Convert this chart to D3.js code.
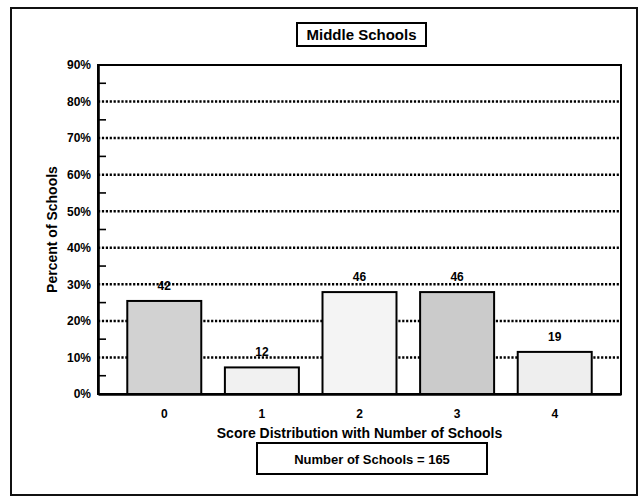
<!DOCTYPE html>
<html>
<head>
<meta charset="utf-8">
<script src="https://cdn.jsdelivr.net/npm/d3@7"></script>
<style>
  html, body { margin: 0; padding: 0; background: #fff; }
  svg { display: block; }
  text { font-family: "Liberation Sans", Arial, Helvetica, sans-serif; font-weight: bold; fill: #000; }
</style>
</head>
<body>
<svg id="chart" width="643" height="497"></svg>
<script>
// ---- data ----
const categories = ["0", "1", "2", "3", "4"];
const schoolCounts = [42, 12, 46, 46, 19];
const totalSchools = 165;
const yTickValues = [0, 0.1, 0.2, 0.3, 0.4, 0.5, 0.6, 0.7, 0.8, 0.9];
const chartTitle = "Middle Schools";
const xTitle = "Score Distribution with Number of Schools";
const yTitle = "Percent of Schools";
const footnote = "Number of Schools = " + totalSchools;

const percents = schoolCounts.map(c => c / totalSchools);

// ---- styles ----
const barFills = ["#d2d2d2", "#f1f1f1", "#f4f4f4", "#cbcbcb", "#eeeeee"];

const svg = d3.select("#chart");
const plot = { left: 98, right: 621, top: 65, bottom: 394 };

// outer frame
svg.append("rect")
  .attr("x", 11).attr("y", 8).attr("width", 626).attr("height", 487)
  .attr("fill", "none").attr("stroke", "#111").attr("stroke-width", 2);

const x = d3.scaleBand()
  .domain(categories)
  .range([plot.left, plot.right])
  .paddingInner(0.242)
  .paddingOuter(0.3);

const y = d3.scaleLinear()
  .domain([0, 0.9])
  .range([plot.bottom, plot.top]);

// gridlines (dotted)
svg.append("g")
  .selectAll("line")
  .data(yTickValues.filter(v => v > 0 && v < 0.9))
  .join("line")
  .attr("x1", plot.left).attr("x2", plot.right)
  .attr("y1", d => y(d)).attr("y2", d => y(d))
  .attr("stroke", "#000").attr("stroke-width", 2.5)
  .attr("stroke-dasharray", "2.2,1.7");

// minor ticks (5% steps)
svg.append("g")
  .selectAll("line")
  .data(yTickValues.slice(0, -1).map(v => v + 0.05))
  .join("line")
  .attr("x1", plot.left).attr("x2", plot.left + 8)
  .attr("y1", d => y(d)).attr("y2", d => y(d))
  .attr("stroke", "#000").attr("stroke-width", 1.6);

// bars
svg.append("g")
  .selectAll("rect")
  .data(percents)
  .join("rect")
  .attr("x", (d, i) => x(categories[i]))
  .attr("width", x.bandwidth())
  .attr("y", d => y(d))
  .attr("height", d => y(0) - y(d))
  .attr("fill", (d, i) => barFills[i])
  .attr("stroke", "#000").attr("stroke-width", 2);

// value labels
svg.append("g")
  .selectAll("text")
  .data(schoolCounts)
  .join("text")
  .attr("x", (d, i) => x(categories[i]) + x.bandwidth() / 2)
  .attr("y", (d, i) => y(percents[i]) - 11)
  .attr("text-anchor", "middle")
  .attr("font-size", 12)
  .text(d => d);

// plot border
svg.append("rect")
  .attr("x", plot.left).attr("y", plot.top)
  .attr("width", plot.right - plot.left).attr("height", plot.bottom - plot.top)
  .attr("fill", "none").attr("stroke", "#000").attr("stroke-width", 2);

// y axis
const yAxis = d3.axisLeft(y)
  .tickValues(yTickValues)
  .tickFormat(d3.format(".0%"))
  .tickSize(0)
  .tickPadding(7);
const gy = svg.append("g").attr("transform", `translate(${plot.left},0)`).call(yAxis);
gy.select(".domain").attr("stroke", "#000").attr("stroke-width", 2.6);
gy.selectAll("text").attr("font-size", 12).attr("font-family", '"Liberation Sans", Arial, sans-serif').attr("font-weight", "bold");

// x axis
const xAxis = d3.axisBottom(x).tickSize(0).tickPadding(15);
const gx = svg.append("g").attr("transform", `translate(0,${plot.bottom})`).call(xAxis);
gx.select(".domain").attr("stroke", "#000").attr("stroke-width", 2.6);
gx.selectAll("text").attr("font-size", 12).attr("font-family", '"Liberation Sans", Arial, sans-serif').attr("font-weight", "bold");

// title box
svg.append("rect")
  .attr("x", 297).attr("y", 23).attr("width", 129).attr("height", 23)
  .attr("fill", "#fff").attr("stroke", "#000").attr("stroke-width", 2);
svg.append("text")
  .attr("x", 361.5).attr("y", 40)
  .attr("text-anchor", "middle").attr("font-size", 15)
  .text(chartTitle);

// x title
svg.append("text")
  .attr("x", (plot.left + plot.right) / 2).attr("y", 438)
  .attr("text-anchor", "middle").attr("font-size", 14)
  .text(xTitle);

// y title
svg.append("text")
  .attr("transform", `translate(57,${(plot.top + plot.bottom) / 2}) rotate(-90)`)
  .attr("text-anchor", "middle").attr("font-size", 14)
  .text(yTitle);

// footnote box
svg.append("rect")
  .attr("x", 257).attr("y", 443).attr("width", 230).attr("height", 31)
  .attr("fill", "#fff").attr("stroke", "#000").attr("stroke-width", 2);
svg.append("text")
  .attr("x", 372).attr("y", 464)
  .attr("text-anchor", "middle").attr("font-size", 13)
  .text(footnote);
</script>
</body>
</html>
